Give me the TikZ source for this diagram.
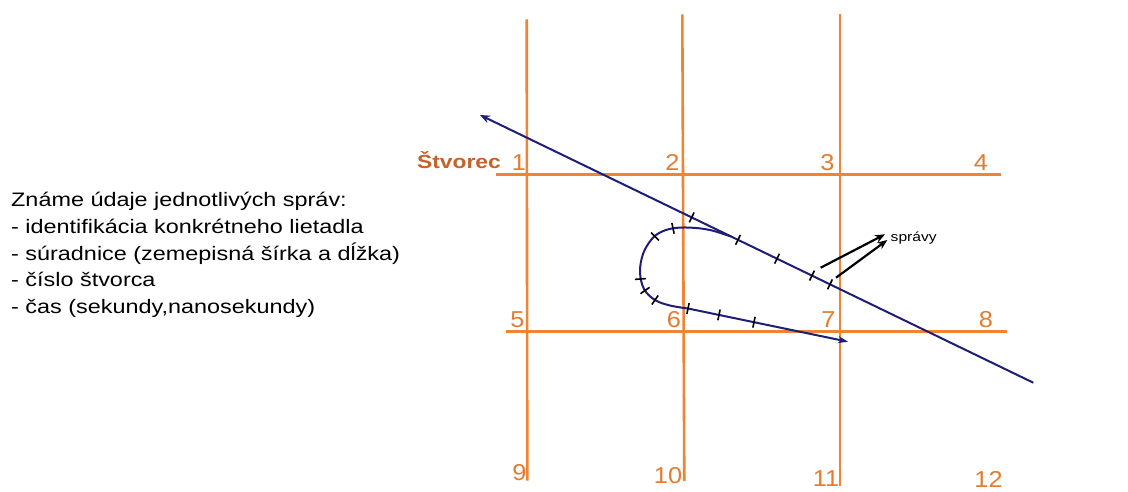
\documentclass[tikz,border=0pt]{standalone}
\usepackage{fontspec}
\setmainfont{Liberation Sans}
\newfontfamily\af[FakeStretch=1.2]{Liberation Sans}
\newfontfamily\afd[FakeStretch=1.1]{Liberation Sans}
\usetikzlibrary{arrows.meta}
\definecolor{gridor}{RGB}{238,132,52}
\definecolor{labor}{RGB}{226,124,48}
\definecolor{titleor}{RGB}{198,98,40}
\definecolor{navy}{RGB}{30,30,118}
\newcommand\tmk[3]{\draw[tk] (#1,#2) +(#3:5.5) -- +(#3+180:5.5);}
\begin{document}
\begin{tikzpicture}[x=1pt,y=-1pt,
  gridline/.style={gridor,line width=2.6pt},
  lab/.style={labor,font=\afd\fontsize{23}{23}\selectfont,inner sep=0pt,anchor=base},
  txt/.style={font=\af\fontsize{19.5}{24}\selectfont,inner sep=0pt,anchor=base west},
  track/.style={navy,line width=2pt},
  tk/.style={black,line width=1.6pt},
  msg/.style={black,line width=2.2pt,-{Stealth[length=10pt,width=8pt]}}]
\useasboundingbox (0,0) rectangle (1128,491);
\fill[white] (0,0) rectangle (1128,491);

% grid
\coordinate (v1t) at (526.7,19.3);  \coordinate (v1b) at (527.3,480.7);
\coordinate (v2t) at (682.3,14.3);  \coordinate (v2b) at (684.3,481);
\coordinate (v3t) at (840,14.3);    \coordinate (v3b) at (840,486);
\coordinate (h1l) at (496,174.4);   \coordinate (h1r) at (1001,174.4);
\coordinate (h2l) at (506,331.7);   \coordinate (h2r) at (1006.7,331.7);
\draw[gridline] (v1t) -- (v1b);
\draw[gridline] (v2t) -- (v2b);
\draw[gridline] (v3t) -- (v3b);
\draw[gridline] (h1l) -- (h1r);
\draw[gridline] (h2l) -- (h2r);

% labels
\node[titleor,font=\af\bfseries\fontsize{19}{19}\selectfont,inner sep=0pt,anchor=base east] (stv) at (501,168) {Štvorec};
\node[lab] (n1) at (519,170) {1};
\node[lab] (n2) at (672.5,170) {2};
\node[lab] (n3) at (827.5,170) {3};
\node[lab] (n4) at (981,170) {4};
\node[lab] (n5) at (517.5,327.5) {5};
\node[lab] (n6) at (674,327.5) {6};
\node[lab] (n7) at (828.5,327.5) {7};
\node[lab] (n8) at (986,327.5) {8};
\node[lab] (n9) at (519.5,480) {9};
\node[lab] (n10) at (668,483) {10};
\node[lab] (n11) at (826,486.5) {11};
\node[lab] (n12) at (988.5,487) {12};

% left text
\node[txt] (t1) at (11,206.7) {Známe údaje jednotlivých správ:};
\node[txt] (t2) at (11,233.3) {- identifikácia konkrétneho lietadla};
\node[txt] (t3) at (11,260) {- súradnice (zemepisná šírka a dĺžka)};
\node[txt] (t4) at (11,286.6) {- číslo štvorca};
\node[txt] (t5) at (11,313.2) {- čas (sekundy,nanosekundy)};

% long straight track
\coordinate (ls) at (1033.3,382.7);
\coordinate (le) at (480,115);
\draw[track,-{Stealth[length=10pt,width=8pt]}] (ls) -- (le);

% loop track
\coordinate (lend) at (848,341.7);
\draw[track,-{Stealth[length=10pt,width=7pt]}] plot[smooth,tension=0.6] coordinates {(731,236.5) (710,230) (690,227.6) (673,228.3) (660,232.5) (651,240) (643,254) (640,272) (644,289) (655,300) (670,305.5) (688,308.5)} -- (lend);

% ticks on straight track
\tmk{691.7}{217.4}{-64.2}
\tmk{738}{239.8}{-64.2}
\tmk{777}{258.7}{-64.2}
\tmk{812}{275.6}{-64.2}
\tmk{830}{284.3}{-64.2}
% ticks on loop
\tmk{673}{228.3}{78}
\tmk{655}{236.5}{45}
\tmk{640.3}{279}{-4}
\tmk{645}{290.5}{-35}
\tmk{655}{300}{-55}
\tmk{688}{308.5}{-78.3}
\tmk{719}{314.9}{-78.3}
\tmk{754}{322.2}{-78.3}

% messages
\coordinate (m1s) at (820.7,267.7); \coordinate (m1e) at (885,234.3);
\coordinate (m2s) at (836,277.7);   \coordinate (m2e) at (887.3,240);
\draw[msg] (m1s) -- (m1e);
\draw[msg] (m2s) -- (m2e);
\node[font=\af\fontsize{13}{13}\selectfont,inner sep=0pt,anchor=base west] (spr) at (890.5,241.5) {správy};
\end{tikzpicture}
\end{document}
